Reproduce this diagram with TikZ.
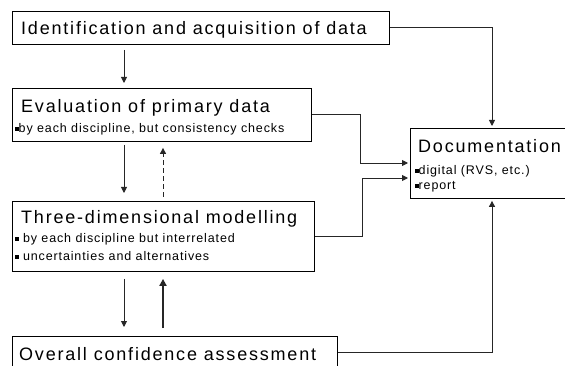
\documentclass[tikz,border=0pt]{standalone}
\usepackage{fontspec}
\setmainfont{Liberation Sans}
\newfontfamily\tfont{Liberation Sans}[LetterSpace=10]
\newfontfamily\sfontx{Liberation Sans}[LetterSpace=7]
\usetikzlibrary{arrows.meta}
\newcommand\sqbul{\rule[0.18em]{0.28em}{0.28em}}
\tikzset{
  box/.style={draw=black, line width=0.9pt, anchor=north west, inner sep=0pt, rectangle},
  ttl/.style={anchor=base west, inner sep=0pt, font=\tfont\fontsize{18}{20}\selectfont},
  sub/.style={anchor=base west, inner sep=0pt, font=\sfontx\fontsize{12.5}{14}\selectfont},
  conn/.style={draw=black!85, line width=0.9pt, -{Triangle[length=6pt,width=6pt]}},
}
\begin{document}
\begin{tikzpicture}[x=1pt,y=-1pt]
\useasboundingbox (0,0) rectangle (565,366);
\fill[white] (0,0) rectangle (565,366);
\clip (0,0) rectangle (565,366);
% boxes
\node[box, minimum width=377pt, minimum height=33pt] (b1) at (12,11) {};
\node[box, minimum width=299pt, minimum height=53pt] (b2) at (12,88) {};
\node[box, minimum width=302pt, minimum height=70pt] (b3) at (12,201) {};
\node[box, minimum width=325pt, minimum height=40pt] (b4) at (12,336) {};
\node[box, minimum width=165pt, minimum height=70pt] (doc) at (410,128) {};
% texts
\node[ttl] (t1) at (21,35) {Identification and acquisition of data};
\node[ttl] (t2) at (21,113) {Evaluation of primary data};
\node[sub] (s2) at (15,133) {\sqbul by each discipline, but consistency checks};
\node[ttl] (t3) at (21,224) {Three-dimensional modelling};
\node[sub] (s3a) at (15,243) {\sqbul{} by each discipline but interrelated};
\node[sub] (s3b) at (15,261) {\sqbul{} uncertainties and alternatives};
\node[ttl] (t4) at (19,360) {Overall confidence assessment};
\node[ttl] (t5) at (418,153) {Documentation};
\node[sub] (s5a) at (415,175) {\sqbul digital (RVS, etc.)};
\node[sub] (s5b) at (415,190) {\sqbul report};
% coordinates
\coordinate (d1) at (492,27);
\coordinate (e2) at (360,114);
\coordinate (e3) at (362,236);
\coordinate (d4) at (492,352);
% vertical arrows on the left
\draw[conn, shorten <=5pt, shorten >=5pt] (b1.south -| 124,0) -- (b2.north -| 124,0);
\draw[conn, shorten <=3pt, shorten >=8pt] (b2.south -| 124,0) -- (b3.north -| 124,0);
\draw[conn, dash pattern=on 5pt off 3pt, shorten <=4pt, shorten >=6pt] (b3.north -| 163,0) -- (b2.south -| 163,0);
\draw[conn, shorten <=7pt, shorten >=9pt] (b3.south -| 124,0) -- (b4.north -| 124,0);
\draw[conn, line width=2pt, -{Triangle[length=7pt,width=7pt]}, shorten <=8pt, shorten >=7pt] (b4.north -| 163,0) -- (b3.south -| 163,0);
% connectors to documentation
\draw[conn, shorten >=2pt] (b1.east |- d1) -- (d1) -- (doc.north -| d1);
\draw[conn, shorten >=2pt] (b2.east |- e2) -- (e2) |- (doc.west |- 0,163);
\draw[conn, shorten >=2pt] (b3.east |- e3) -- (e3) |- (doc.west |- 0,178);
\draw[conn, shorten >=2pt] (b4.east |- d4) -- (d4) -- (doc.south -| d4);
\end{tikzpicture}
\end{document}
